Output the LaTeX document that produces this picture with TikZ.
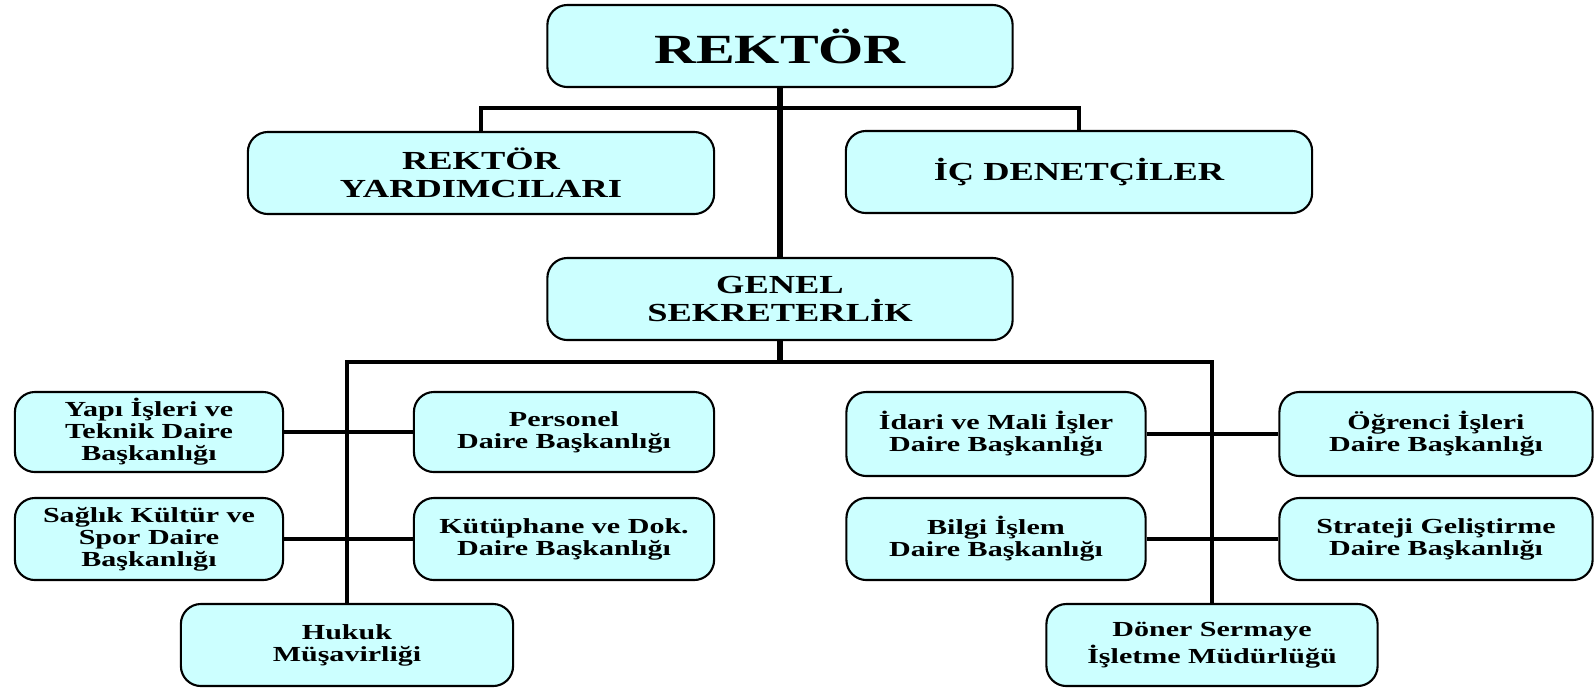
\documentclass[tikz,border=0pt]{standalone}
\usepackage{fontspec}
\newfontfamily\chartfont[FakeStretch=1.4]{Liberation Serif}
\usetikzlibrary{positioning}
\definecolor{unitfill}{RGB}{204,255,255}

\begin{document}
\begin{tikzpicture}[x=0.01cm, y=-0.01cm,
  unit/.style={draw, line width=0.6pt, fill=unitfill, rounded corners=0.2cm,
    align=center, inner sep=0pt, minimum height=0.82cm,
    font=\chartfont\bfseries\fontsize{6.1}{6.3}\selectfont},
  bigunit/.style={unit, minimum width=4.65cm,
    font=\chartfont\bfseries\fontsize{7.4}{7.8}\selectfont},
  trunk/.style={line width=1.7pt},
  bar/.style={line width=1.3pt},
  branch/.style={line width=0.9pt}]
\useasboundingbox (0,0) rectangle (1594,699);

% top level
\node (rektor) [bigunit, font=\chartfont\bfseries\fontsize{11.8}{12}\selectfont] at (780,46) {REKTÖR};
\node (yard) [bigunit, minimum width=4.66cm] at (481,173) {REKTÖR\\YARDIMCILARI};
\node (ic) [bigunit, minimum width=4.66cm] at (1079,172) {İÇ DENETÇİLER};
\node (genel) [bigunit] at (780,299) {GENEL\\SEKRETERLİK};

% left side
\node (yapi) [unit, minimum width=2.68cm, minimum height=0.80cm] at (149,432) {Yapı İşleri ve\\Teknik Daire\\Başkanlığı};
\node (personel) [unit, minimum width=3.00cm, minimum height=0.80cm] at (564,432) {Personel\\Daire Başkanlığı};
\node (saglik) [unit, minimum width=2.68cm] at (149,539) {Sağlık Kültür ve\\Spor Daire\\Başkanlığı};
\node (kutup) [unit, minimum width=3.00cm] at (564,539) {Kütüphane ve Dok.\\Daire Başkanlığı};
\node (hukuk) [unit, minimum width=3.32cm] at (347,645) {Hukuk\\Müşavirliği};

% right side
\node (idari) [unit, minimum width=2.99cm, minimum height=0.84cm] at (996,434) {İdari ve Mali İşler\\Daire Başkanlığı};
\node (ogrenci) [unit, minimum width=3.13cm, minimum height=0.84cm] at (1436,434) {Öğrenci İşleri\\Daire Başkanlığı};
\node (bilgi) [unit, minimum width=2.99cm] at (996,539) {Bilgi İşlem\\Daire Başkanlığı};
\node (strateji) [unit, minimum width=3.13cm] at (1436,539) {Strateji Geliştirme\\Daire Başkanlığı};
\node (doner) [unit, minimum width=3.31cm] at (1212,645) {Döner Sermaye\\İşletme Müdürlüğü};

% connectors
\coordinate (bar1) at (780,108);
\coordinate (bar2) at (780,362);
\draw[trunk] (rektor.south) -- (genel.north);
\draw[bar] (yard.north) |- (bar1) -| (ic.north);
\draw[trunk] (genel.south) -- (bar2);
\draw[bar] (hukuk.north) |- (bar2) -| (doner.north);
\draw[branch] (yapi.east) -- (personel.west);
\draw[branch] (saglik.east) -- (kutup.west);
\draw[branch] (idari.east) -- (ogrenci.west);
\draw[branch] (bilgi.east) -- (strateji.west);
\end{tikzpicture}
\end{document}
